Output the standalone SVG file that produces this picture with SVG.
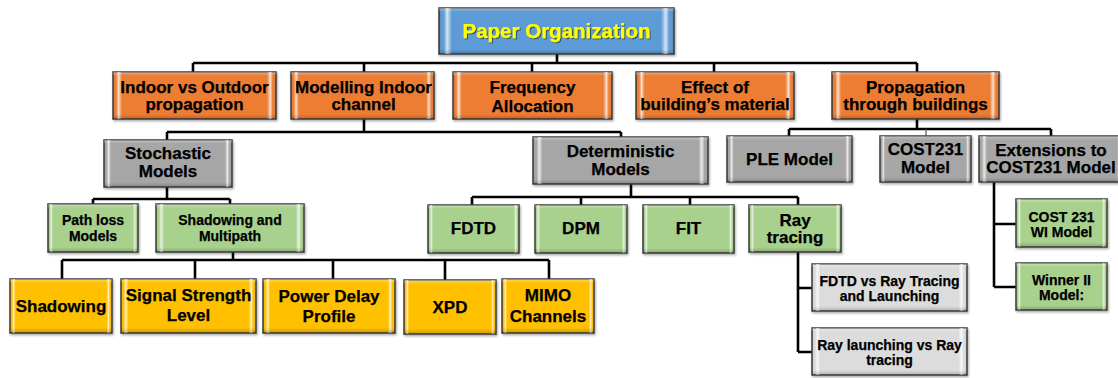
<svg xmlns="http://www.w3.org/2000/svg" width="1118" height="378" viewBox="0 0 1118 378">
  <defs>
    <!-- light bevel strips along the left and right edges of every box -->
    <linearGradient id="bevH" x1="0" y1="0" x2="1" y2="0">
      <stop offset="0" stop-color="#000" stop-opacity="0.15"/>
      <stop offset="0.02" stop-color="#fff" stop-opacity="0"/>
      <stop offset="0.035" stop-color="#fff" stop-opacity="0.75"/>
      <stop offset="0.055" stop-color="#fff" stop-opacity="0"/>
      <stop offset="0.945" stop-color="#fff" stop-opacity="0"/>
      <stop offset="0.965" stop-color="#fff" stop-opacity="0.75"/>
      <stop offset="0.98" stop-color="#fff" stop-opacity="0"/>
      <stop offset="1" stop-color="#000" stop-opacity="0.15"/>
    </linearGradient>
    <linearGradient id="bevV" x1="0" y1="0" x2="0" y2="1">
      <stop offset="0" stop-color="#fff" stop-opacity="0.35"/>
      <stop offset="0.08" stop-color="#fff" stop-opacity="0"/>
      <stop offset="0.9" stop-color="#000" stop-opacity="0"/>
      <stop offset="1" stop-color="#000" stop-opacity="0.2"/>
    </linearGradient>
    <filter id="shadow" x="-5%" y="-10%" width="110%" height="130%">
      <feDropShadow dx="1" dy="1.5" stdDeviation="1" flood-color="#000" flood-opacity="0.35"/>
    </filter>
    <filter id="txtShadow" x="-5%" y="-20%" width="110%" height="150%">
      <feDropShadow dx="1" dy="1" stdDeviation="0.6" flood-color="#000" flood-opacity="0.55"/>
    </filter>
    <style>
      .box { stroke: #3c3c3c; stroke-width: 1.5; filter: url(#shadow); }
      .bh { fill: url(#bevH); }
      .bv { fill: url(#bevV); }
      .blue { fill: #5b9bd5; }
      .orange { fill: #ed7d31; }
      .gray { fill: #a6a6a6; }
      .green { fill: #a9d18e; }
      .yellow { fill: #ffc000; }
      .light { fill: #dcdcdc; }
      text { font-family: "Liberation Sans", Arial, sans-serif; font-weight: bold; text-anchor: middle; fill: #000; stroke: #000; stroke-width: 0.25; }
      .t20 { font-size: 20.5px; fill: #ffff00; stroke: #ffff00; filter: url(#txtShadow); }
      .t17 { font-size: 17px; }
      .t14 { font-size: 14px; }
      .conn { fill: none; stroke: #000; stroke-width: 2.6; }
      .thin { fill: none; stroke: #555; stroke-width: 1.2; }
    </style>
  </defs>

  <!-- connectors -->
  <g id="connectors">
    <path class="conn" d="M557,54 V63 M193,63 H917 M193,63 V72 M364,63 V72 M532,63 V72 M714,63 V72 M917,63 V72"/>
    <path class="conn" d="M364,119 V132 M167,132 H621 M167,132 V140 M621,132 V137"/>
    <path class="conn" d="M167,187 V199 M93,199 H230 M93,199 V204 M230,199 V204"/>
    <path class="conn" d="M233,252 V260 M62,260 H549 M62,260 V279 M195,260 V279 M333,260 V279 M445,260 V280 M549,260 V279"/>
    <path class="conn" d="M631,184 V197 M472,197 H798 M472,197 V205 M581,197 V205 M690,197 V205 M798,197 V205"/>
    <path class="conn" d="M798,252 V352 M798,288 H812 M798,352 H812"/>
    <path class="conn" d="M917,119 V129 M789,129 H1051 M789,129 V136 M1051,129 V136"/>
    <path class="thin" d="M926,129 V136"/>
    <path class="conn" d="M994,182 V287 M994,224 H1016 M994,287 H1016"/>
  </g>

  <!-- root -->
  <g id="paper-organization">
    <rect class="box blue" x="439" y="8" width="235" height="46"/>
    <rect class="bh" x="439" y="8" width="235" height="46"/>
    <rect class="bv" x="439" y="8" width="235" height="46"/>
    <text class="t20" x="556.5" y="38">Paper Organization</text>
  </g>

  <!-- first level -->
  <g id="indoor-outdoor">
    <rect class="box orange" x="113" y="72" width="163" height="47"/>
    <rect class="bh" x="113" y="72" width="163" height="47"/>
    <rect class="bv" x="113" y="72" width="163" height="47"/>
    <text class="t17" x="194.5" y="93">Indoor vs Outdoor</text>
    <text class="t17" x="194.5" y="110">propagation</text>
  </g>
  <g id="modelling-indoor">
    <rect class="box orange" x="291" y="72" width="143" height="47"/>
    <rect class="bh" x="291" y="72" width="143" height="47"/>
    <rect class="bv" x="291" y="72" width="143" height="47"/>
    <text class="t17" x="363.5" y="93">Modelling Indoor</text>
    <text class="t17" x="363.5" y="110">channel</text>
  </g>
  <g id="frequency-allocation">
    <rect class="box orange" x="453" y="72" width="159" height="47"/>
    <rect class="bh" x="453" y="72" width="159" height="47"/>
    <rect class="bv" x="453" y="72" width="159" height="47"/>
    <text class="t17" x="532.5" y="93">Frequency</text>
    <text class="t17" x="532.5" y="111.5">Allocation</text>
  </g>
  <g id="building-material">
    <rect class="box orange" x="636" y="72" width="158" height="47"/>
    <rect class="bh" x="636" y="72" width="158" height="47"/>
    <rect class="bv" x="636" y="72" width="158" height="47"/>
    <text class="t17" x="715" y="93">Effect of</text>
    <text class="t17" x="715" y="110">building’s material</text>
  </g>
  <g id="through-buildings">
    <rect class="box orange" x="832" y="72" width="167" height="47"/>
    <rect class="bh" x="832" y="72" width="167" height="47"/>
    <rect class="bv" x="832" y="72" width="167" height="47"/>
    <text class="t17" x="915.5" y="93">Propagation</text>
    <text class="t17" x="915.5" y="110">through buildings</text>
  </g>

  <!-- model families -->
  <g id="stochastic">
    <rect class="box gray" x="104" y="140" width="128" height="47"/>
    <rect class="bh" x="104" y="140" width="128" height="47"/>
    <rect class="bv" x="104" y="140" width="128" height="47"/>
    <text class="t17" x="168" y="159">Stochastic</text>
    <text class="t17" x="168" y="177">Models</text>
  </g>
  <g id="deterministic">
    <rect class="box gray" x="533" y="137" width="175" height="47"/>
    <rect class="bh" x="533" y="137" width="175" height="47"/>
    <rect class="bv" x="533" y="137" width="175" height="47"/>
    <text class="t17" x="620.5" y="157">Deterministic</text>
    <text class="t17" x="620.5" y="175">Models</text>
  </g>
  <g id="ple-model">
    <rect class="box gray" x="727" y="136" width="125" height="46"/>
    <rect class="bh" x="727" y="136" width="125" height="46"/>
    <rect class="bv" x="727" y="136" width="125" height="46"/>
    <text class="t17" x="789.5" y="165">PLE Model</text>
  </g>
  <g id="cost231-model">
    <rect class="box gray" x="880" y="136" width="91" height="46"/>
    <rect class="bh" x="880" y="136" width="91" height="46"/>
    <rect class="bv" x="880" y="136" width="91" height="46"/>
    <text class="t17" x="925.5" y="155">COST231</text>
    <text class="t17" x="925.5" y="173">Model</text>
  </g>
  <g id="cost231-extensions">
    <rect class="box gray" x="979" y="136" width="146" height="46"/>
    <rect class="bh" x="979" y="136" width="146" height="46"/>
    <rect class="bv" x="979" y="136" width="146" height="46"/>
    <text class="t17" x="1051" y="156">Extensions to</text>
    <text class="t17" x="1051" y="173">COST231 Model</text>
  </g>

  <!-- stochastic branches -->
  <g id="path-loss">
    <rect class="box green" x="48" y="204" width="90" height="48"/>
    <rect class="bh" x="48" y="204" width="90" height="48"/>
    <rect class="bv" x="48" y="204" width="90" height="48"/>
    <text class="t14" x="93" y="225">Path loss</text>
    <text class="t14" x="93" y="241">Models</text>
  </g>
  <g id="shadowing-multipath">
    <rect class="box green" x="156" y="204" width="148" height="48"/>
    <rect class="bh" x="156" y="204" width="148" height="48"/>
    <rect class="bv" x="156" y="204" width="148" height="48"/>
    <text class="t14" x="230" y="225">Shadowing and</text>
    <text class="t14" x="230" y="241">Multipath</text>
  </g>

  <!-- deterministic branches -->
  <g id="fdtd">
    <rect class="box green" x="428" y="205" width="91" height="48"/>
    <rect class="bh" x="428" y="205" width="91" height="48"/>
    <rect class="bv" x="428" y="205" width="91" height="48"/>
    <text class="t17" x="473.5" y="234">FDTD</text>
  </g>
  <g id="dpm">
    <rect class="box green" x="535" y="205" width="92" height="48"/>
    <rect class="bh" x="535" y="205" width="92" height="48"/>
    <rect class="bv" x="535" y="205" width="92" height="48"/>
    <text class="t17" x="581" y="234">DPM</text>
  </g>
  <g id="fit">
    <rect class="box green" x="643" y="205" width="91" height="48"/>
    <rect class="bh" x="643" y="205" width="91" height="48"/>
    <rect class="bv" x="643" y="205" width="91" height="48"/>
    <text class="t17" x="688.5" y="234">FIT</text>
  </g>
  <g id="ray-tracing">
    <rect class="box green" x="749" y="205" width="92" height="47"/>
    <rect class="bh" x="749" y="205" width="92" height="47"/>
    <rect class="bv" x="749" y="205" width="92" height="47"/>
    <text class="t17" x="795" y="226">Ray</text>
    <text class="t17" x="795" y="243">tracing</text>
  </g>

  <!-- COST231 extensions -->
  <g id="cost231-wi">
    <rect class="box green" x="1016" y="199" width="91" height="48"/>
    <rect class="bh" x="1016" y="199" width="91" height="48"/>
    <rect class="bv" x="1016" y="199" width="91" height="48"/>
    <text class="t14" x="1061.5" y="222">COST 231</text>
    <text class="t14" x="1061.5" y="237">WI Model</text>
  </g>
  <g id="winner-ii">
    <rect class="box green" x="1016" y="263" width="91" height="47"/>
    <rect class="bh" x="1016" y="263" width="91" height="47"/>
    <rect class="bv" x="1016" y="263" width="91" height="47"/>
    <text class="t14" x="1061.5" y="285">Winner II</text>
    <text class="t14" x="1061.5" y="300">Model:</text>
  </g>

  <!-- ray tracing comparisons -->
  <g id="fdtd-vs-ray">
    <rect class="box light" x="812" y="264" width="155" height="47"/>
    <rect class="bh" x="812" y="264" width="155" height="47"/>
    <rect class="bv" x="812" y="264" width="155" height="47"/>
    <text class="t14" x="889.5" y="286">FDTD vs Ray Tracing</text>
    <text class="t14" x="889.5" y="301">and Launching</text>
  </g>
  <g id="launching-vs-tracing">
    <rect class="box light" x="812" y="328" width="155" height="47"/>
    <rect class="bh" x="812" y="328" width="155" height="47"/>
    <rect class="bv" x="812" y="328" width="155" height="47"/>
    <text class="t14" x="889.5" y="350">Ray launching vs Ray</text>
    <text class="t14" x="889.5" y="365">tracing</text>
  </g>

  <!-- shadowing and multipath topics -->
  <g id="shadowing">
    <rect class="box yellow" x="10" y="279" width="102" height="54"/>
    <rect class="bh" x="10" y="279" width="102" height="54"/>
    <rect class="bv" x="10" y="279" width="102" height="54"/>
    <text class="t17" x="61" y="312">Shadowing</text>
  </g>
  <g id="signal-strength">
    <rect class="box yellow" x="121" y="279" width="135" height="54"/>
    <rect class="bh" x="121" y="279" width="135" height="54"/>
    <rect class="bv" x="121" y="279" width="135" height="54"/>
    <text class="t17" x="188.5" y="301">Signal Strength</text>
    <text class="t17" x="188.5" y="321">Level</text>
  </g>
  <g id="power-delay">
    <rect class="box yellow" x="263" y="279" width="132" height="54"/>
    <rect class="bh" x="263" y="279" width="132" height="54"/>
    <rect class="bv" x="263" y="279" width="132" height="54"/>
    <text class="t17" x="329" y="302">Power Delay</text>
    <text class="t17" x="329" y="322">Profile</text>
  </g>
  <g id="xpd">
    <rect class="box yellow" x="404" y="280" width="92" height="54"/>
    <rect class="bh" x="404" y="280" width="92" height="54"/>
    <rect class="bv" x="404" y="280" width="92" height="54"/>
    <text class="t17" x="450" y="313">XPD</text>
  </g>
  <g id="mimo">
    <rect class="box yellow" x="502" y="279" width="92" height="54"/>
    <rect class="bh" x="502" y="279" width="92" height="54"/>
    <rect class="bv" x="502" y="279" width="92" height="54"/>
    <text class="t17" x="548" y="301">MIMO</text>
    <text class="t17" x="548" y="322">Channels</text>
  </g>
</svg>
